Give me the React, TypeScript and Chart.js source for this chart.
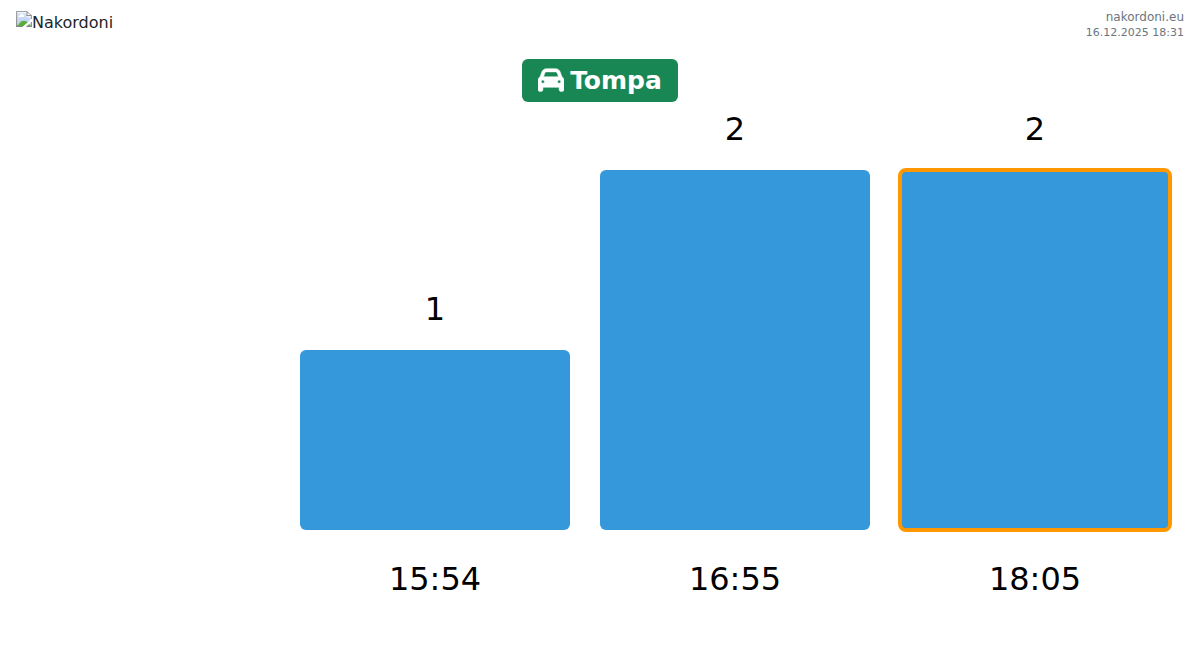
import React, { useEffect, useRef } from "react";
import { Chart, registerables } from "chart.js";

Chart.register(...registerables);

const categories = ["15:54", "16:55", "18:05"];
const counts = [1, 2, 2];
const highlightedIndex = 2;
const FONT = '"DejaVu Sans", sans-serif';
const BROKEN_IMAGE = "data:image/png;base64,AAAA";

const barDecor = {
  id: "barDecor",
  beforeDraw(chart: any) {
    const { ctx, width, height } = chart;
    ctx.save();
    ctx.fillStyle = "#fff";
    ctx.fillRect(0, 0, width, height);
    ctx.restore();
  },
  afterDatasetsDraw(chart: any) {
    const { ctx } = chart;
    const bars = chart.getDatasetMeta(0).data;
    ctx.save();
    ctx.font = `32px ${FONT}`;
    ctx.fillStyle = "#000";
    ctx.textAlign = "center";
    ctx.textBaseline = "middle";
    bars.forEach((bar: any, i: number) => {
      ctx.fillText(String(counts[i]), bar.x, bar.y - 38);
      if (i === highlightedIndex) {
        const left = bar.x - bar.width / 2;
        ctx.beginPath();
        ctx.roundRect(left, bar.y, bar.width, bar.base - bar.y, 6);
        ctx.strokeStyle = "#ff9800";
        ctx.lineWidth = 4;
        ctx.stroke();
      }
    });
    ctx.restore();
  },
};

export default function App() {
  const ref = useRef<HTMLCanvasElement>(null);
  useEffect(() => {
    document.body.style.margin = "0";
    ref.current!.getContext("2d", { alpha: false });
    const chart = new Chart(ref.current!, {
      type: "bar",
      data: {
        labels: categories,
        datasets: [
          {
            data: counts,
            backgroundColor: "#3498db",
            borderRadius: 6,
            borderSkipped: false,
            barPercentage: 0.9,
            categoryPercentage: 1,
          },
        ],
      },
      options: {
        animation: false,
        responsive: false,
        layout: { padding: { left: 285, right: 15, top: 170, bottom: 0 } },
        plugins: { legend: { display: false }, tooltip: { enabled: false } },
        scales: {
          x: {
            grid: { display: false },
            border: { display: false },
            afterFit: (axis: any) => {
              axis.height = 121;
            },
            ticks: {
              color: "#000",
              padding: 24,
              maxRotation: 0,
              font: { family: FONT, size: 32 },
            },
          },
          y: { display: false, min: 0, max: 2 },
        },
      },
      plugins: [barDecor],
    } as any);
    return () => chart.destroy();
  }, []);

  return (
    <div style={{ position: "relative", width: 1200, height: 651, background: "#fff", overflow: "hidden", fontFamily: FONT }}>
      <canvas ref={ref} width={1200} height={651} style={{ display: "block", position: "absolute", left: 0, top: 0 }} />
      <div style={{ position: "absolute", left: 0, top: 0, width: 300, height: 50, background: "#fff" }}>
        <img
          src={BROKEN_IMAGE}
          alt="Nakordoni"
          style={{ position: "absolute", left: 16, top: 11, height: 24, fontSize: 16, lineHeight: 1.5, color: "#212529" }}
        />
      </div>
      <div style={{ position: "absolute", right: 0, top: 0, width: 300, height: 50, paddingTop: 9, paddingRight: 16, boxSizing: "border-box", background: "#fff", textAlign: "right", lineHeight: "16px", color: "#6c757d" }}>
        <div style={{ fontSize: 12 }}>nakordoni.eu</div>
        <div style={{ fontSize: 11 }}>16.12.2025 18:31</div>
      </div>
      <div
        style={{
          position: "absolute",
          left: 522,
          top: 59,
          width: 156,
          height: 43,
          boxSizing: "border-box",
          background: "#198754",
          borderRadius: 6,
          color: "#fff",
          display: "flex",
          alignItems: "center",
          justifyContent: "center",
          gap: 6,
          fontSize: 25,
          fontWeight: 700,
        }}
      >
        <svg width="26" height="26" viewBox="0 0 512 512" fill="#fff" stroke="#fff" strokeWidth="10" aria-hidden="true" style={{ marginTop: -2 }}>
          <path d="M135.2 117.4L109.1 192H402.9l-26.1-74.6C372.3 104.6 360.2 96 346.6 96H165.4c-13.6 0-25.7 8.6-30.2 21.4zM39.6 196.8L74.8 96.3C88.3 57.8 124.6 32 165.4 32H346.6c40.8 0 77.1 25.8 90.6 64.3l35.2 100.5c23.2 9.6 39.6 32.5 39.6 59.2V400v48c0 17.7-14.3 32-32 32H448c-17.7 0-32-14.3-32-32V400H96v48c0 17.7-14.3 32-32 32H32c-17.7 0-32-14.3-32-32V400 256c0-26.7 16.4-49.6 39.6-59.2zM128 288a32 32 0 1 0 -64 0 32 32 0 1 0 64 0zm288 32a32 32 0 1 0 0-64 32 32 0 1 0 0 64z" />
        </svg>
        <span>Tompa</span>
      </div>
    </div>
  );
}
